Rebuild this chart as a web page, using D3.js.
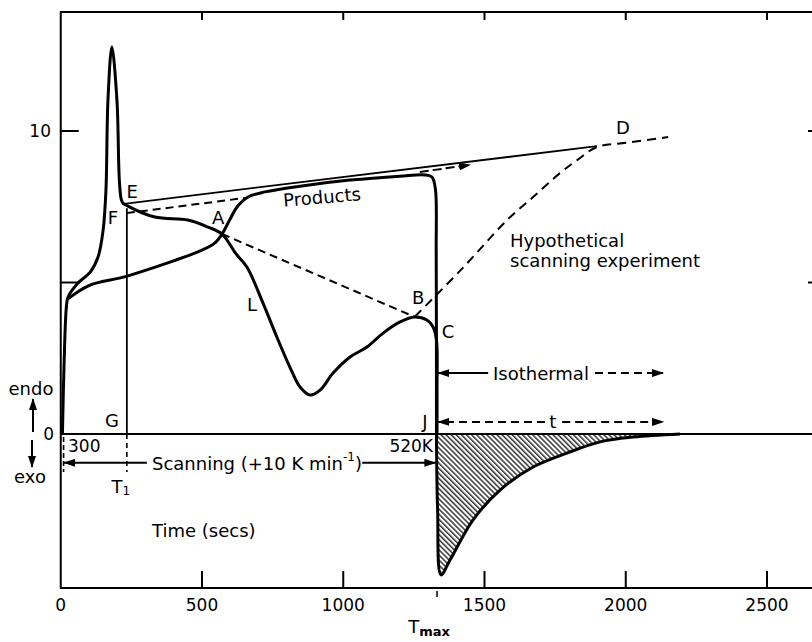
<!DOCTYPE html>
<html>
<head>
<meta charset="utf-8">
<script src="https://cdnjs.cloudflare.com/ajax/libs/d3/7.8.5/d3.min.js"></script>
<style>
  body { margin: 0; background: #fff; }
  svg text { font-family: "DejaVu Sans", sans-serif; fill: #000; }
</style>
</head>
<body>
<div id="chart"></div>
<script>
// chart values: [time (secs), signal]
var xTicks = [0, 500, 1000, 1500, 2000, 2500];
var yTickLabels = [0, 10];
var yTickMarks = [5, 10];

// start + melting peak, then decomposition trace E -> A -> L -> B -> C
var peakCurve = [[6, 0], [12, 2.4], [20, 4.2], [26, 4.52], [61, 4.98], [105, 5.35], [132, 5.84],
  [150, 6.73], [160, 8.05], [167, 11.0], [181, 12.77], [199, 11.0], [209, 8.15], [218, 7.65],
  [238, 7.52], [333, 7.16], [450, 7.06], [521, 6.83], [571, 6.6], [620, 5.95], [659, 5.51],
  [716, 4.32], [765, 3.2], [811, 2.21], [847, 1.55], [882, 1.29], [918, 1.45], [964, 2.01],
  [1024, 2.54], [1084, 2.87], [1141, 3.33], [1201, 3.7], [1254, 3.86], [1296, 3.76],
  [1318, 3.53], [1330, 3.1], [1332, 1.5], [1332, 0]];

// lower branch rising through A into the products trace
var productsCurve = [[24, 4.45], [100, 4.9], [235, 5.21], [500, 6.07], [545, 6.3], [571, 6.6],
  [600, 7.1], [624, 7.49], [663, 7.82], [723, 7.99], [847, 8.18], [1024, 8.38], [1201, 8.51],
  [1289, 8.55], [1314, 8.48], [1326, 8.1], [1329, 6], [1330, 0]];

// isothermal exotherm (hatched)
var exoCurve = [[1330, 0], [1334, -2.5], [1346, -4.65], [1378, -4.16], [1459, -2.84],
  [1555, -1.85], [1672, -1.09], [1792, -0.63], [1909, -0.26], [2026, -0.1], [2192, 0]];

// hypothetical scanning experiment (dashed) through B, up to D and beyond
var hypoCurve = [[1254, 3.88], [1420, 5.45], [1580, 7.06], [1672, 7.82], [1767, 8.61],
  [1828, 9.04], [1898, 9.47], [2010, 9.62], [2150, 9.8]];

var edLine = [[217, 7.59], [1898, 9.5]];
var fLine = [[234, 7.29], [652, 7.79]];
var abLine = [[571, 6.6], [1254, 3.86]];
var productsArrow = [[1271, 8.65], [1449, 8.88]];

var tG = 234;      // T1 marker
var tJ = 1332;     // Tmax marker

var svgWidth = 812;
var svgHeight = 642;

var svg = d3.select("#chart")
  .append("svg")
  .attr("width", svgWidth)
  .attr("height", svgHeight);

var x = d3.scaleLinear().domain([0, 2500]).range([60.75, 767]);
var y = d3.scaleLinear().domain([0, 10]).range([434, 131]);

var frameTop = 12, frameBottom = 588, frameRight = 826;

var defs = svg.append("defs");

defs.append("marker")
  .attr("id", "arrow")
  .attr("markerUnits", "userSpaceOnUse")
  .attr("markerWidth", 12)
  .attr("markerHeight", 8)
  .attr("refX", 11)
  .attr("refY", 4)
  .attr("orient", "auto")
  .append("path")
  .attr("d", "M0,0 L12,4 L0,8 Z")
  .attr("fill", "#000");

var hatch = defs.append("pattern")
  .attr("id", "hatch")
  .attr("patternUnits", "userSpaceOnUse")
  .attr("width", 3.6)
  .attr("height", 10)
  .attr("patternTransform", "rotate(-45)");
hatch.append("line")
  .attr("x1", 0.8).attr("y1", 0)
  .attr("x2", 0.8).attr("y2", 10)
  .attr("stroke", "#000")
  .attr("stroke-width", 1.2);

// frame
svg.append("path")
  .attr("d", `M${frameRight},${frameTop} L${x(0)},${frameTop} L${x(0)},${frameBottom} L${frameRight},${frameBottom}`)
  .attr("fill", "none")
  .attr("stroke", "#000")
  .attr("stroke-width", 2);

// zero line
svg.append("line")
  .attr("x1", x(0)).attr("x2", svgWidth)
  .attr("y1", y(0)).attr("y2", y(0))
  .attr("stroke", "#000")
  .attr("stroke-width", 2);

// x ticks, bottom (up) and top (down)
xTicks.filter(d => d > 0).forEach(function(d) {
  svg.append("line")
    .attr("x1", x(d)).attr("x2", x(d))
    .attr("y1", frameBottom).attr("y2", frameBottom - 17)
    .attr("stroke", "#000").attr("stroke-width", 2);
  svg.append("line")
    .attr("x1", x(d)).attr("x2", x(d))
    .attr("y1", frameTop).attr("y2", frameTop + 8)
    .attr("stroke", "#000").attr("stroke-width", 2);
});

svg.selectAll(".xlabel")
  .data(xTicks)
  .enter()
  .append("text")
  .attr("x", d => x(d))
  .attr("y", 611)
  .attr("text-anchor", "middle")
  .attr("font-size", 17)
  .text(d => d);

// y ticks left and right
yTickMarks.forEach(function(d) {
  svg.append("line")
    .attr("x1", x(0)).attr("x2", x(0) + 18)
    .attr("y1", y(d)).attr("y2", y(d))
    .attr("stroke", "#000").attr("stroke-width", 2);
  svg.append("line")
    .attr("x1", frameRight).attr("x2", frameRight - 18)
    .attr("y1", y(d)).attr("y2", y(d))
    .attr("stroke", "#000").attr("stroke-width", 2);
});

svg.selectAll(".ylabel")
  .data(yTickLabels)
  .enter()
  .append("text")
  .attr("x", d => d === 0 ? 54 : 51)
  .attr("y", d => y(d) + 6)
  .attr("text-anchor", "end")
  .attr("font-size", 17)
  .text(d => d);

// Tmax tick below axis
svg.append("line")
  .attr("x1", x(tJ)).attr("x2", x(tJ))
  .attr("y1", frameBottom + 3).attr("y2", frameBottom + 9)
  .attr("stroke", "#000").attr("stroke-width", 1.5);

var smooth = d3.line()
  .x(d => x(d[0]))
  .y(d => y(d[1]))
  .curve(d3.curveCatmullRom.alpha(0.5));

var straight = d3.line()
  .x(d => x(d[0]))
  .y(d => y(d[1]));

// hatched exotherm
svg.append("path")
  .datum(exoCurve)
  .attr("d", d3.area()
    .x(d => x(d[0]))
    .y0(y(0))
    .y1(d => y(d[1]))
    .curve(d3.curveCatmullRom.alpha(0.5)))
  .attr("fill", "url(#hatch)");

// thin line E - D
svg.append("path")
  .datum(edLine)
  .attr("d", straight)
  .attr("fill", "none")
  .attr("stroke", "#000")
  .attr("stroke-width", 1.8);

// dashed lines
[fLine, abLine].forEach(function(seg) {
  svg.append("path")
    .datum(seg)
    .attr("d", straight)
    .attr("fill", "none")
    .attr("stroke", "#000")
    .attr("stroke-width", 2)
    .attr("stroke-dasharray", "8,5");
});

svg.append("path")
  .datum(hypoCurve)
  .attr("d", smooth)
  .attr("fill", "none")
  .attr("stroke", "#000")
  .attr("stroke-width", 2)
  .attr("stroke-dasharray", "9,6");

svg.append("path")
  .datum(productsArrow)
  .attr("d", straight)
  .attr("fill", "none")
  .attr("stroke", "#000")
  .attr("stroke-width", 2)
  .attr("stroke-dasharray", "9,4")
  .attr("marker-end", "url(#arrow)");

// thick traces
[peakCurve, productsCurve, exoCurve].forEach(function(c) {
  svg.append("path")
    .datum(c)
    .attr("d", smooth)
    .attr("fill", "none")
    .attr("stroke", "#000")
    .attr("stroke-width", 3)
    .attr("stroke-linejoin", "round");
});

// G line down to T1
svg.append("line")
  .attr("x1", x(tG)).attr("x2", x(tG))
  .attr("y1", y(7.45)).attr("y2", y(0))
  .attr("stroke", "#000").attr("stroke-width", 1.8);
svg.append("line")
  .attr("x1", x(tG)).attr("x2", x(tG))
  .attr("y1", y(0)).attr("y2", y(-1.25))
  .attr("stroke", "#000").attr("stroke-width", 1.6)
  .attr("stroke-dasharray", "5,4");

// left marker at 300 K
svg.append("line")
  .attr("x1", x(10)).attr("x2", x(10))
  .attr("y1", y(-0.1)).attr("y2", y(-1.25))
  .attr("stroke", "#000").attr("stroke-width", 1.6)
  .attr("stroke-dasharray", "5,3");

// scanning arrows
function arrowLine(t1, v1, t2, v2, dashed) {
  var l = svg.append("line")
    .attr("x1", x(t1)).attr("y1", y(v1))
    .attr("x2", x(t2)).attr("y2", y(v2))
    .attr("stroke", "#000")
    .attr("stroke-width", 2)
    .attr("marker-end", "url(#arrow)");
  if (dashed) l.attr("stroke-dasharray", "8,5");
}

arrowLine(305, -0.95, 12, -0.95, false);
arrowLine(1067, -0.95, 1326, -0.95, false);
arrowLine(1513, 2.01, 1336, 2.01, false);
arrowLine(1891, 2.01, 2132, 2.01, true);
arrowLine(1714, 0.4, 1336, 0.4, true);
arrowLine(1775, 0.4, 2132, 0.4, true);

// endo / exo arrows
svg.append("line")
  .attr("x1", 33).attr("x2", 33)
  .attr("y1", 432).attr("y2", 399)
  .attr("stroke", "#000").attr("stroke-width", 2)
  .attr("marker-end", "url(#arrow)");
svg.append("line")
  .attr("x1", 32).attr("x2", 32)
  .attr("y1", 440).attr("y2", 467)
  .attr("stroke", "#000").attr("stroke-width", 2)
  .attr("marker-end", "url(#arrow)");

// text labels
function label(px, py, txt, anchor, size) {
  return svg.append("text")
    .attr("x", px)
    .attr("y", py)
    .attr("text-anchor", anchor || "middle")
    .attr("dominant-baseline", "central")
    .attr("font-size", size || 18)
    .text(txt);
}

label(x(253), y(7.99), "E");
label(x(185), y(7.13), "F");
label(x(557), y(7.16), "A");
label(x(677), y(4.26), "L");
label(x(1265), y(4.49), "B");
label(x(1371), y(3.37), "C");
label(x(1990), y(10.1), "D");
label(x(181), y(0.46), "G");
label(x(1289), y(0.4), "J");
label(x(1742), y(0.4), "t");

label(322, 197, "Products").attr("transform", "rotate(-5, 322, 197)");
label(510, 240, "Hypothetical", "start");
label(510, 260, "scanning experiment", "start");
label(493, 373, "Isothermal", "start");
label(68, 446, "300", "start", 17);
label(433, 446, "520K", "end", 17);

var scan = label(152, 463, "Scanning (+10 K min", "start");
scan.append("tspan").attr("font-size", 12).attr("dy", -6).text("-1");
scan.append("tspan").attr("dy", 6).text(")");

label(152, 530, "Time (secs)", "start");

var t1 = label(x(tG) - 6, 486, "T", "middle");
t1.append("tspan").attr("font-size", 12).attr("dy", 5).text("1");

var tmax = label(x(tJ) - 8, 626, "T", "middle");
tmax.append("tspan").attr("font-size", 13).attr("font-weight", "bold").attr("dy", 5).text("max");

label(31, 388, "endo");
label(30, 476, "exo");
</script>
</body>
</html>
